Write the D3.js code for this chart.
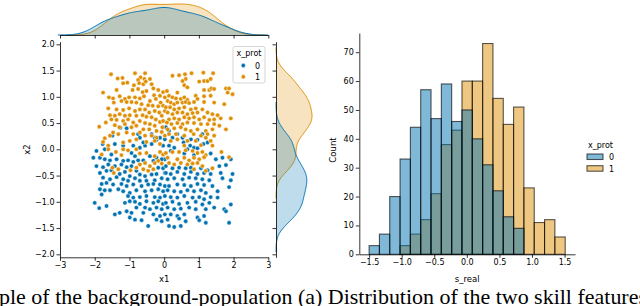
<!DOCTYPE html>
<html><head><meta charset="utf-8">
<script src="https://cdn.jsdelivr.net/npm/d3@7"></script>
<style>
html,body{margin:0;padding:0;background:#fff;overflow:hidden}
svg{display:block}
</style></head>
<body><svg id="c" width="640" height="306" font-family="DejaVu Sans, sans-serif"></svg>
<script>
// ---------------- DATA ----------------
// scatter points for x_prot = 0 (x1, x2)
const prot0Points = [
[-1.26,0.41],[-1.08,0.40],[-0.75,0.29],[-1.49,0.26],[-1.18,0.07],[-1.77,0.10],[-0.89,0.07],[-0.70,0.03],[-0.55,0.07],[-0.36,0.29],[-0.27,0.22],[-0.22,0.18],[-0.12,0.22],[0.02,0.19],[-0.03,0.07],[-0.70,0.22],[-0.60,0.13],[-0.36,0.10],[-1.42,0.10],
[0.05,0.42],[0.14,0.35],[0.38,0.29],[0.53,0.22],[0.24,0.22],[0.77,0.19],[0.96,0.18],[1.10,0.29],[1.25,0.13],[0.56,0.13],[0.75,0.07],[0.86,0.03],[0.96,0.02],[0.14,0.07],[0.29,0.03],[1.13,0.10],
[-1.95,-0.03],[-1.71,0.00],[-1.52,-0.10],[-0.94,-0.07],[-0.84,-0.13],[-0.41,-0.13],[-0.22,-0.16],[0.02,-0.19],[-2.04,-0.16],[-1.85,-0.16],[-1.71,-0.19],[-1.56,-0.21],[-1.37,-0.19],[-1.18,-0.22],[-1.04,-0.21],[-0.89,-0.24],[-0.75,-0.21],[-0.60,-0.21],[-0.31,-0.22],[-0.07,-0.19],
[-1.95,-0.32],[-1.76,-0.34],[-1.61,-0.29],[-1.42,-0.32],[-1.23,-0.29],[-1.08,-0.34],[-0.94,-0.32],[-0.80,-0.41],[-0.17,-0.35],[-0.03,-0.36],[-1.85,-0.45],[-1.66,-0.41],[-1.52,-0.40],[-1.28,-0.47],[-1.13,-0.43],[-0.99,-0.51],[-0.70,-0.48],[-0.55,-0.51],[-0.36,-0.48],[-0.22,-0.47],[0.02,-0.45],
[-1.76,-0.54],[-1.56,-0.57],[-1.37,-0.53],[-1.18,-0.57],[-1.04,-0.60],[-0.84,-0.55],[-0.70,-0.60],[-0.51,-0.60],[-0.27,-0.59],[-0.07,-0.55],[-1.80,-0.66],[-1.66,-0.64],[-1.47,-0.67],[-1.23,-0.66],[-1.08,-0.70],[-0.89,-0.67],[-0.65,-0.70],[-0.46,-0.67],[-0.31,-0.66],[-0.12,-0.67],[0.02,-0.70],
[-1.85,-0.76],[-1.71,-0.78],[-1.56,-0.78],[-1.32,-0.76],[-1.18,-0.80],[-0.99,-0.83],[-0.80,-0.78],[-0.55,-0.80],[-0.36,-0.78],[-0.17,-0.76],[-0.03,-0.80],[-1.80,-0.86],[-1.04,-0.89],[-0.89,-0.92],[-0.70,-0.91],[-0.51,-0.89],[-0.27,-0.91],[-0.12,-0.92],[0.02,-0.89],
[-0.99,-0.99],[-0.84,-1.00],[-0.70,-1.04],[-0.51,-0.99],[-0.31,-1.02],[-0.17,-0.99],[-0.03,-1.04],[-2.00,-1.02],[-1.87,-1.12],[-1.13,-1.02],[-1.66,-1.08],[-0.80,-1.11],[-0.55,-1.11],[-0.41,-1.14],[-0.22,-1.11],[-0.07,-1.14],[-1.08,-1.18],[-0.94,-1.21],[-0.60,-1.21],[-0.31,-1.24],[-0.12,-1.27],[0.02,-1.24],[-1.42,-1.24],[-1.28,-1.21],[-0.99,-1.30],[-0.84,-1.34],[-0.65,-1.35],[-0.22,-1.34],[-0.07,-1.37],[-0.46,-1.46],
[0.19,-0.03],[0.58,-0.08],[0.67,0.00],[0.86,-0.11],[1.34,-0.08],[1.49,-0.19],[1.68,-0.16],[1.92,-0.19],[0.05,-0.32],[0.24,-0.36],[0.43,-0.35],[0.62,-0.36],[0.77,-0.35],[1.06,-0.36],[1.25,-0.40],[1.59,-0.32],[1.78,-0.30],
[0.05,-0.45],[0.19,-0.47],[0.38,-0.43],[0.58,-0.47],[0.77,-0.43],[0.96,-0.47],[1.15,-0.45],[1.34,-0.47],[1.63,-0.45],[1.97,-0.47],[0.10,-0.57],[0.29,-0.55],[0.53,-0.57],[0.72,-0.54],[0.91,-0.55],[1.10,-0.57],[1.30,-0.59],[1.68,-0.55],[1.92,-0.59],
[0.14,-0.70],[0.38,-0.67],[0.58,-0.68],[0.77,-0.70],[0.96,-0.66],[1.15,-0.68],[1.39,-0.70],[1.87,-0.72],[0.10,-0.78],[0.29,-0.80],[0.48,-0.81],[0.67,-0.78],[0.86,-0.80],[1.06,-0.78],[1.20,-0.83],[1.54,-0.80],
[0.19,-0.91],[0.38,-0.92],[0.58,-0.89],[0.82,-0.92],[1.01,-0.91],[1.15,-0.95],[1.34,-0.91],[1.54,-0.92],[0.05,-1.02],[0.24,-1.00],[0.43,-1.04],[0.67,-1.02],[0.91,-1.00],[1.10,-1.05],[1.30,-1.02],
[0.10,-1.11],[0.29,-1.14],[0.48,-1.13],[0.72,-1.11],[0.91,-1.14],[1.20,-1.14],[1.44,-1.11],[1.73,-1.14],[1.92,-1.05],[0.19,-1.24],[0.38,-1.27],[0.58,-1.24],[0.96,-1.30],[1.15,-1.27],[1.78,-1.18],[0.10,-1.34],[0.43,-1.32],[0.62,-1.37],[1.01,-1.35],[1.20,-1.40],[1.87,-1.40],[0.14,-1.46],[0.29,-1.48],[0.48,-1.46]
];
// scatter points for x_prot = 1 (x1, x2)
const prot1Points = [
[-1.53,1.43],[-0.84,1.45],[-0.55,1.45],[-1.34,1.35],[-1.20,1.36],[-1.06,1.27],[-1.18,1.26],[-0.68,1.37],[-0.75,1.32],[-0.57,1.34],[-0.41,1.34],[-0.87,1.22],[-0.72,1.26],[-0.60,1.24],[-0.53,1.29],[-0.36,1.24],[-0.31,1.16],[-0.17,1.13],
[-1.76,1.08],[-1.37,1.13],[-0.91,1.13],[-0.75,1.15],[-0.62,1.09],[-0.51,1.11],[-0.29,1.03],[-0.12,1.02],[-0.03,1.09],[0.02,0.99],[-1.59,0.99],[-1.47,0.97],[-1.28,1.01],[-1.13,0.96],[-1.01,0.99],[-0.84,0.99],[-0.70,0.97],[-0.58,1.01],[-0.41,0.92],[-0.24,0.96],[-0.10,0.89],
[-1.45,0.89],[-1.23,0.92],[-1.08,0.90],[-0.94,0.90],[-0.80,0.89],[-0.65,0.86],[-0.46,0.84],[-0.33,0.83],[-0.17,0.82],[-0.03,0.83],[0.02,0.73],[-1.61,0.78],[-1.37,0.76],[-1.18,0.75],[-1.01,0.78],[-0.84,0.73],[-0.70,0.76],[-0.55,0.76],[-0.43,0.70],[-0.27,0.73],[-0.14,0.70],[-0.07,0.64],
[-1.56,0.65],[-1.42,0.64],[-1.28,0.67],[-1.13,0.64],[-0.99,0.65],[-0.80,0.64],[-0.62,0.65],[-0.51,0.62],[-0.36,0.61],[-0.24,0.57],[-0.12,0.52],[-0.03,0.54],[-1.52,0.57],[-1.37,0.56],[-1.18,0.54],[-1.04,0.57],[-0.89,0.51],[-0.70,0.54],[-0.55,0.50],[-0.41,0.48],[-0.27,0.45],[-0.05,0.42],
[-1.87,0.43],[-1.68,0.51],[-1.42,0.46],[-1.29,0.42],[-1.13,0.48],[-0.94,0.42],[-0.80,0.45],[-0.60,0.38],[-0.43,0.38],[-0.22,0.35],[-0.07,0.33],[-1.71,0.21],[-1.56,0.26],[-1.47,0.32],[-1.32,0.29],[-1.08,0.32],[-0.89,0.29],[-0.70,0.32],[-0.55,0.26],[-0.36,0.26],[-0.22,0.22],[0.02,0.26],
[-1.76,0.14],[-1.61,0.07],[-1.18,0.13],[-0.99,0.16],[-0.80,0.19],[-0.51,0.14],[-0.27,0.16],[-0.12,0.10],
[0.24,1.40],[0.43,1.41],[0.60,1.43],[0.79,1.45],[1.13,1.46],[1.41,1.45],[0.62,1.34],[0.53,1.30],[1.01,1.29],[1.15,1.30],[1.25,1.30],[1.34,1.34],[0.58,1.22],[0.67,1.18],[1.15,1.13],[1.30,1.13],[1.36,1.16],[1.44,1.15],[1.78,1.16],[1.87,1.16],[1.83,1.08],[1.97,1.05],
[0.38,1.08],[0.08,1.11],[0.14,1.02],[0.24,0.99],[0.34,0.97],[0.48,0.96],[0.58,0.99],[0.67,0.94],[0.91,1.02],[0.96,0.96],[1.15,1.01],[1.34,1.02],[0.10,0.92],[0.19,0.89],[0.29,0.86],[0.38,0.89],[0.53,0.89],[0.62,0.90],[0.72,0.88],[0.86,0.90],[1.15,0.90],[1.44,0.89],[1.73,0.86],
[0.05,0.80],[0.17,0.80],[0.29,0.76],[0.43,0.78],[0.58,0.80],[0.77,0.76],[0.91,0.78],[1.10,0.76],[0.10,0.70],[0.24,0.67],[0.38,0.70],[0.53,0.70],[0.67,0.67],[0.82,0.69],[0.96,0.70],[1.25,0.70],[1.39,0.67],[1.54,0.65],[1.92,0.59],
[0.14,0.57],[0.29,0.59],[0.43,0.57],[0.58,0.61],[0.72,0.59],[0.86,0.61],[1.01,0.57],[1.15,0.61],[1.30,0.56],[1.44,0.57],[1.63,0.59],[0.08,0.51],[0.21,0.48],[0.38,0.50],[0.53,0.48],[0.67,0.51],[0.86,0.50],[1.06,0.48],[1.25,0.48],[1.44,0.48],[1.59,0.45],[1.78,0.38],
[0.10,0.38],[0.29,0.40],[0.48,0.42],[0.62,0.38],[0.77,0.35],[0.96,0.38],[1.20,0.35],[1.39,0.38],[0.14,0.29],[0.34,0.29],[0.58,0.26],[0.85,0.29],[1.06,0.26],[1.25,0.29],[1.44,0.26],[0.19,0.16],[0.38,0.19],[0.67,0.16],[0.91,0.16],[1.20,0.22],[1.34,0.16],[1.39,0.07],[1.06,0.08],[0.58,0.07],
[-1.80,-0.10],[-1.61,0.00],[-1.39,-0.05],[-1.18,0.00],[-1.23,-0.11],[-1.04,-0.02],[-0.80,0.00],[-0.70,-0.08],[-0.51,-0.07],[-0.27,-0.13],[-0.12,-0.05],[-0.03,-0.10],[-0.70,-0.29],[-0.55,-0.26],[-0.41,-0.32],[-0.27,-0.26],[-0.17,-0.22],[-0.07,-0.27],[-1.49,-0.35],[-1.32,-0.38],[-1.45,-0.45],[-0.97,-0.40],[-0.80,-0.35],[-0.60,-0.38],[-0.46,-0.41],[-0.31,-0.38],
[0.05,-0.07],[0.24,-0.05],[0.43,-0.05],[0.62,-0.02],[0.82,-0.03],[0.96,-0.07],[1.10,-0.05],[1.20,-0.11],[1.65,-0.05],[1.87,-0.15],[0.10,-0.16],[0.38,-0.19],[0.58,-0.16],[0.72,-0.21],[0.86,-0.16],[1.01,-0.19],[1.15,-0.15],[0.14,-0.26],[0.29,-0.29],[0.48,-0.26],[0.67,-0.29],[0.82,-0.27],[0.96,-0.26],[1.10,-0.32],[1.39,-0.36],[1.20,-0.41],[0.86,-0.38]
];
const scatterXTicks = [-3,-2,-1,0,1,2,3];
const scatterYTicks = [-2.0,-1.5,-1.0,-0.5,0.0,0.5,1.0,1.5,2.0];
const hueLevels = ["0","1"];
// histogram of s_real by x_prot
const histBinStart = -1.50;
const histBinWidth = 0.1584;
const count0 = [3,7,20,33,44,57,47,59,46,50,40,31,22,13,9,0,0,0,0];
const count1 = [0,0,0,3,7,12,21,38,43,60,60,73,54,45,51,23,11,12,6];
const histXTicks = [-1.5,-1.0,-0.5,0.0,0.5,1.0,1.5];
const histYTicks = [0,10,20,30,40,50,60,70];
const captionText = "ple of the background-population (a) Distribution of the two skill features";

// ---------------- STYLE ----------------
const C0 = "#0173b2", C1 = "#de8f05";
const svg = d3.select("#c");
const fmt1 = d => d3.format(".1f")(d).replace("-", "\u2212");
const fmt0 = d => String(d).replace("-", "\u2212");
function styleAxis(a) {
  a.selectAll("text").attr("font-size", 8).attr("font-family", "DejaVu Sans, sans-serif").attr("fill", "#000");
  a.selectAll("line").attr("stroke", "#000").attr("stroke-width", 0.8);
  a.select(".domain").attr("stroke", "#000").attr("stroke-width", 0.8);
}

// ---------------- LEFT: JOINT PLOT ----------------
const jx = d3.scaleLinear().domain([-3, 3]).range([60, 268.3]);
const jy = d3.scaleLinear().domain([-2.057, 2.05]).range([257.3, 41.7]);

const main = svg.append("g");
const xAx = main.append("g").attr("transform", "translate(0,257.3)")
  .call(d3.axisBottom(jx).tickValues(scatterXTicks).tickFormat(fmt0).tickSize(3.5).tickPadding(2).tickSizeOuter(0));
const yAx = main.append("g").attr("transform", "translate(60,0)")
  .call(d3.axisLeft(jy).tickValues(scatterYTicks).tickFormat(fmt1).tickSize(3.5).tickPadding(2).tickSizeOuter(0));
styleAxis(xAx); styleAxis(yAx);
main.append("text").attr("x", 164.2).attr("y", 282).attr("text-anchor", "middle").attr("font-size", 8.5).text("x1");
main.append("text").attr("transform", "translate(30,149.5) rotate(-90)").attr("text-anchor", "middle").attr("font-size", 8.5).text("x2");

// points interleaved
const pts = [];
const nmax = Math.max(prot0Points.length, prot1Points.length);
for (let i = 0; i < nmax; i++) {
  if (i < prot0Points.length) pts.push({p: prot0Points[i], h: 0});
  if (i < prot1Points.length) pts.push({p: prot1Points[i], h: 1});
}
main.append("g").selectAll("circle").data(pts).join("circle")
  .attr("cx", d => jx(d.p[0])).attr("cy", d => jy(d.p[1])).attr("r", 2.2)
  .attr("fill", d => d.h ? C1 : C0).attr("stroke", "#fff").attr("stroke-width", 0.5);

// legend
const lg = main.append("g");
lg.append("rect").attr("x", 233).attr("y", 46.5).attr("width", 32).attr("height", 36.5).attr("rx", 2)
  .attr("fill", "#fff").attr("fill-opacity", 0.8).attr("stroke", "#ccc").attr("stroke-width", 0.8);
lg.append("text").attr("x", 249).attr("y", 56).attr("text-anchor", "middle").attr("font-size", 8).text("x_prot");
hueLevels.forEach((h, i) => {
  lg.append("circle").attr("cx", 243.3).attr("cy", 65.5 + i * 11.3).attr("r", 2.2).attr("fill", i ? C1 : C0)
    .attr("stroke", "#fff").attr("stroke-width", 0.5);
  lg.append("text").attr("x", 255).attr("y", 68.5 + i * 11.3).attr("font-size", 8).text(h);
});

// KDE helpers
function kde(values, grid) {
  const n = values.length, sd = d3.deviation(values);
  const bw = sd * Math.pow(n, -1 / 5);
  return grid.map(g => [g, d3.sum(values, v => Math.exp(-0.5 * ((g - v) / bw) ** 2)) / (n * bw * Math.sqrt(2 * Math.PI))]);
}
const Ntot = prot0Points.length + prot1Points.length;
function margKde(p, acc) {
  const vals = p.map(acc);
  const sd = d3.deviation(vals), bw = sd * Math.pow(vals.length, -1 / 5);
  const lo = d3.min(vals) - 3 * bw, hi = d3.max(vals) + 3 * bw;
  const grid = d3.range(0, 201).map(i => lo + (hi - lo) * i / 200);
  const w = vals.length / Ntot;
  return kde(vals, grid).map(([g, d]) => [g, d * w]);
}
const topK = [margKde(prot1Points, d => d[0]), margKde(prot0Points, d => d[0])];
const rightK = [margKde(prot1Points, d => d[1]), margKde(prot0Points, d => d[1])];
const topMax = d3.max(topK.flat(), d => d[1]);
const rightMax = d3.max(rightK.flat(), d => d[1]);

// top marginal
const ty = d3.scaleLinear().domain([0, topMax]).range([35, 4]);
const topG = svg.append("g");
[1, 0].forEach((h, k) => {
  const data = topK[k];
  const col = h ? C1 : C0;
  topG.append("path").datum(data)
    .attr("d", d3.area().x(d => jx(d[0])).y0(ty(0)).y1(d => ty(d[1])))
    .attr("fill", col).attr("fill-opacity", 0.25);
  topG.append("path").datum(data)
    .attr("d", d3.line().x(d => jx(d[0])).y(d => ty(d[1])))
    .attr("fill", "none").attr("stroke", col).attr("stroke-width", 1);
});
const topAx = topG.append("g").attr("transform", "translate(0,35)")
  .call(d3.axisBottom(jx).tickValues(scatterXTicks).tickFormat("").tickSize(3.5).tickSizeOuter(0));
styleAxis(topAx);

// right marginal
const rx = d3.scaleLinear().domain([0, rightMax]).range([276, 312]);
const rG = svg.append("g");
[1, 0].forEach((h, k) => {
  const data = rightK[k];
  const col = h ? C1 : C0;
  rG.append("path").datum(data)
    .attr("d", d3.area().y(d => jy(d[0])).x0(rx(0)).x1(d => rx(d[1])))
    .attr("fill", col).attr("fill-opacity", 0.25);
  rG.append("path").datum(data)
    .attr("d", d3.line().y(d => jy(d[0])).x(d => rx(d[1])))
    .attr("fill", "none").attr("stroke", col).attr("stroke-width", 1);
});
const rAx = rG.append("g").attr("transform", "translate(276,0)")
  .call(d3.axisLeft(jy).tickValues(scatterYTicks).tickFormat("").tickSize(3.5).tickSizeOuter(0));
styleAxis(rAx);

// ---------------- RIGHT: HISTOGRAM ----------------
const nB = count0.length;
const histLo = histBinStart, histHi = histBinStart + nB * histBinWidth;
const pad = (histHi - histLo) * 0.05;
const hx = d3.scaleLinear().domain([histLo - pad, histHi + pad]).range([359.3, 575]);
const hy = d3.scaleLinear().domain([0, d3.max(count0.concat(count1)) * 1.05]).range([254.3, 33]);
const hG = svg.append("g");
const bars = (counts, col) => hG.append("g").selectAll("rect")
  .data(counts.map((c, i) => ({c, i})).filter(d => d.c > 0)).join("rect")
  .attr("x", d => hx(histLo + d.i * histBinWidth)).attr("width", d => hx(histLo + (d.i + 1) * histBinWidth) - hx(histLo + d.i * histBinWidth))
  .attr("y", d => hy(d.c)).attr("height", d => hy(0) - hy(d.c))
  .attr("fill", col).attr("fill-opacity", 0.5)
  .attr("stroke", "#000").attr("stroke-opacity", 0.65).attr("stroke-width", 1.1);
bars(count1, C1);
bars(count0, C0);
const hxAx = hG.append("g").attr("transform", "translate(0,254.3)")
  .call(d3.axisBottom(hx).tickValues(histXTicks).tickFormat(fmt1).tickSize(3.5).tickPadding(2).tickSizeOuter(0));
const hyAx = hG.append("g").attr("transform", "translate(359.3,0)")
  .call(d3.axisLeft(hy).tickValues(histYTicks).tickFormat(fmt0).tickSize(3.5).tickPadding(2).tickSizeOuter(0));
styleAxis(hxAx); styleAxis(hyAx);
hG.append("text").attr("x", 467.2).attr("y", 282).attr("text-anchor", "middle").attr("font-size", 8.5).text("s_real");
hG.append("text").attr("transform", "translate(336,150) rotate(-90)").attr("text-anchor", "middle").attr("font-size", 8.5).text("Count");
// legend
hG.append("text").attr("x", 600.5).attr("y", 148).attr("text-anchor", "middle").attr("font-size", 8).text("x_prot");
hueLevels.forEach((h, i) => {
  hG.append("rect").attr("x", 587).attr("y", 154 + i * 11.7).attr("width", 16).attr("height", 5.5)
    .attr("fill", i ? C1 : C0).attr("fill-opacity", 0.5).attr("stroke", "#000").attr("stroke-opacity", 0.65).attr("stroke-width", 1.1);
  hG.append("text").attr("x", 609).attr("y", 159.8 + i * 11.7).attr("font-size", 8).text(h);
});

// caption (cut at both edges as in the reference)
svg.append("text").attr("x", -1).attr("y", 303.5)
  .attr("font-family", "'Liberation Serif', 'DejaVu Serif', serif").attr("font-size", 21)
  .attr("textLength", 648).attr("lengthAdjust", "spacingAndGlyphs").text(captionText);
</script></body></html>
